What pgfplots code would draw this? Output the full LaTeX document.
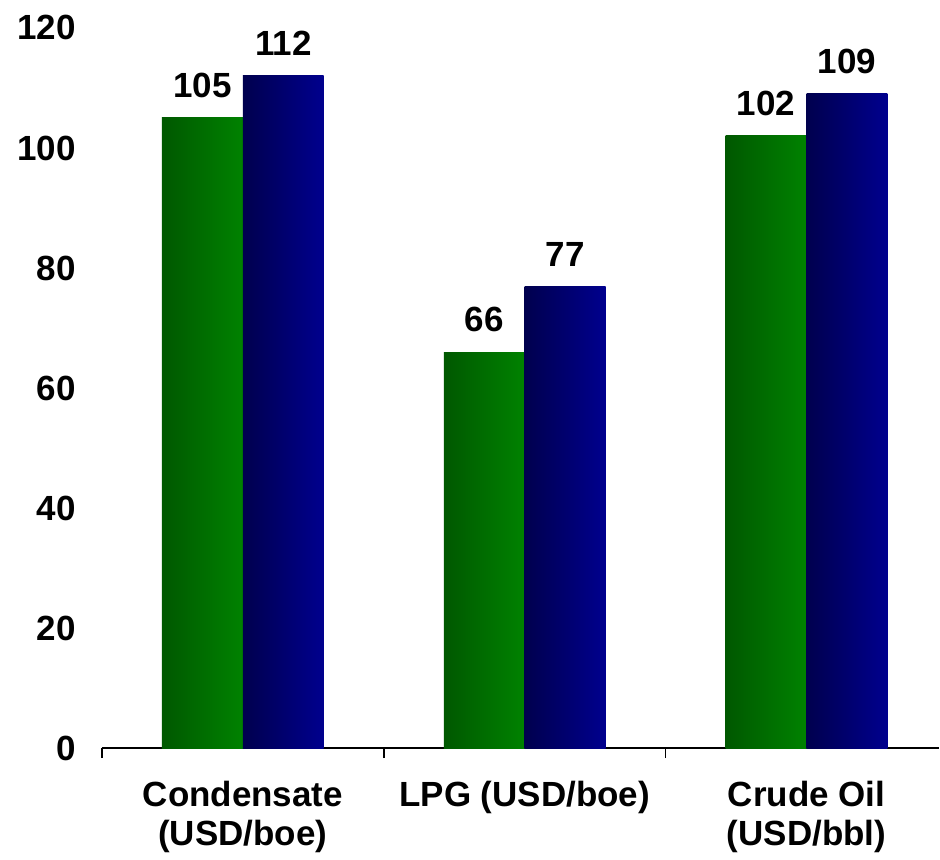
\documentclass[border=0pt]{standalone}
\usepackage{pgfplots}
\pgfplotsset{compat=1.18}
\usepackage{fontspec}
\setmainfont{Liberation Sans}
\definecolor{gdark}{RGB}{0,88,0}
\definecolor{glight}{RGB}{0,130,0}
\definecolor{bdark}{RGB}{0,0,78}
\definecolor{blight}{RGB}{0,0,142}
\begin{document}
\begin{tikzpicture}
\begin{axis}[
  scale only axis,
  width=419pt, height=360.5pt,
  xmin=-0.5, xmax=2.47,
  ymin=0, ymax=120,
  ytick={0,20,...,120},
  axis x line*=bottom, axis y line*=left,
  y axis line style={draw=none},
  x axis line style={line width=1pt},
  ytick style={draw=none},
  /pgf/number format/assume math mode=true,
  tick label style={font=\fontsize{17.5}{19.5}\selectfont\bfseries},
  yticklabel style={xshift=-4.5pt},
  xtick={-0.5,0.5,1.5},
  xticklabels={},
  x tick style={draw=black, line width=0.8pt},
  tick align=outside,
  major tick length=5pt,
  extra x ticks={0,1,2},
  extra x tick labels={{Condensate\\(USD/boe)},{LPG (USD/boe)},{Crude Oil\\(USD/bbl)}},
  extra x tick style={major tick length=0pt, tick style={draw=none}, xticklabel style={align=center, yshift=-13pt}},
  clip=false,
  nodes near coords,
  every node near coord/.append style={font=\fontsize{17.5}{19.5}\selectfont\bfseries, /pgf/number format/assume math mode=true, yshift=6.5pt},
  bar width=0.287,
]
\path (rel axis cs:0,1) ++(-51pt,14pt);
% green series
\addplot[ybar, bar shift=0, draw=none, left color=gdark, right color=glight] coordinates {(-0.1435,105)};
\addplot[ybar, bar shift=0, draw=none, left color=gdark, right color=glight] coordinates {(0.8565,66)};
\addplot[ybar, bar shift=0, draw=none, left color=gdark, right color=glight] coordinates {(1.8565,102)};
% blue series
\addplot[ybar, bar shift=0, draw=none, left color=bdark, right color=blight] coordinates {(0.1435,112)};
\addplot[ybar, bar shift=0, draw=none, left color=bdark, right color=blight] coordinates {(1.1435,77)};
\addplot[ybar, bar shift=0, draw=none, left color=bdark, right color=blight] coordinates {(2.1435,109)};
\end{axis}
\end{tikzpicture}
\end{document}
